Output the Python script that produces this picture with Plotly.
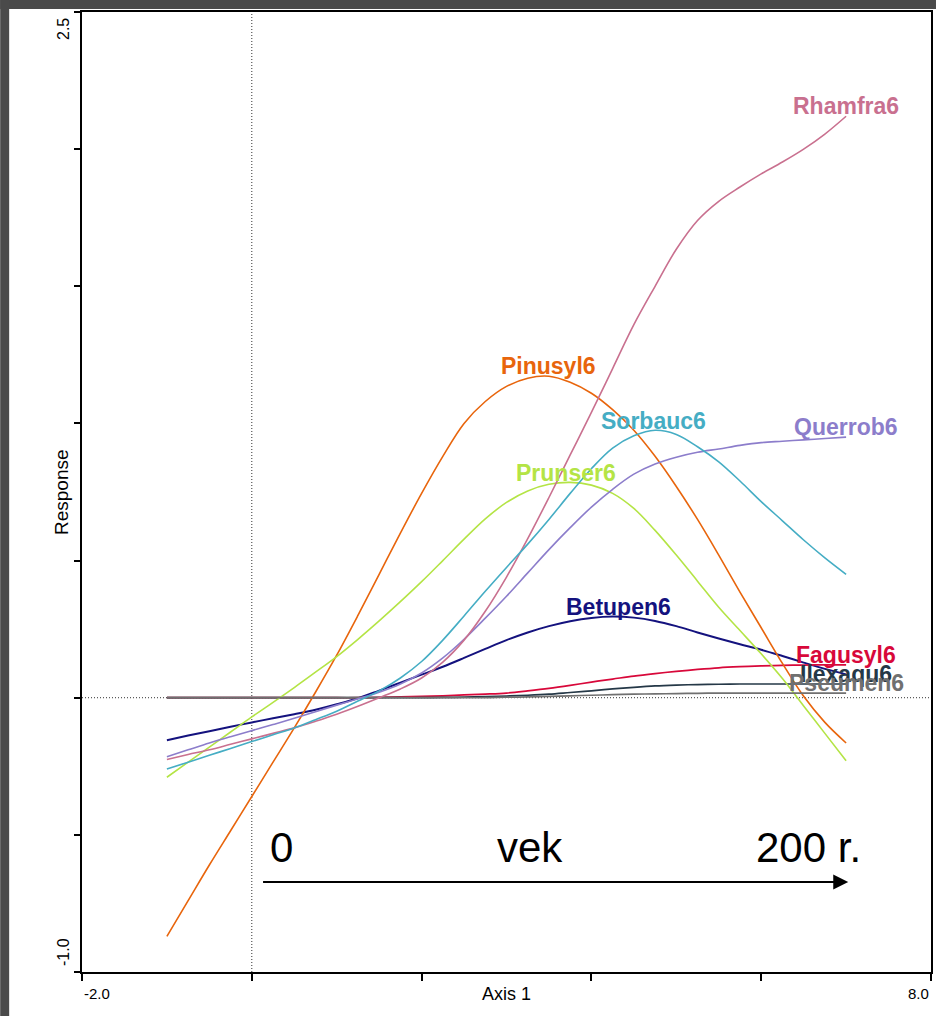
import numpy as np
import plotly.graph_objects as go

# Gradient position along Axis 1 (quarter steps from -1 to 7)
axis1 = [-1.0, -0.75, -0.5, -0.25, 0.0, 0.25, 0.5, 0.75, 1.0, 1.25, 1.5, 1.75,
         2.0, 2.25, 2.5, 2.75, 3.0, 3.25, 3.5, 3.75, 4.0, 4.25, 4.5, 4.75,
         5.0, 5.25, 5.5, 5.75, 6.0, 6.25, 6.5, 6.75, 7.0]

# Fitted species response curves
betupen6 = [-0.155, -0.138, -0.122, -0.106, -0.09, -0.075, -0.06, -0.044, -0.024, -0.002, 0.026, 0.055,
            0.084, 0.113, 0.145, 0.178, 0.21, 0.238, 0.261, 0.279, 0.291, 0.296, 0.292, 0.28,
            0.261, 0.238, 0.216, 0.195, 0.175, 0.152, 0.128, 0.105, 0.085]
fagusyl6 = [0.0, 0.0, 0.0, 0.0, 0.0, 0.0, 0.0, 0.0, 0.0, 0.0, 0.001, 0.003,
            0.005, 0.007, 0.01, 0.013, 0.017, 0.025, 0.034, 0.045, 0.057, 0.068, 0.079, 0.088,
            0.096, 0.103, 0.109, 0.113, 0.116, 0.118, 0.119, 0.12, 0.12]
ilexaqu6 = [0.0, 0.0, 0.0, 0.0, 0.0, 0.0, 0.0, 0.0, 0.0, 0.0, 0.0, 0.0,
            0.0, 0.001, 0.002, 0.004, 0.006, 0.009, 0.013, 0.019, 0.025, 0.032, 0.038, 0.043,
            0.046, 0.048, 0.049, 0.05, 0.05, 0.05, 0.05, 0.05, 0.05]
pinusyl6 = [-0.87, -0.74, -0.61, -0.485, -0.36, -0.235, -0.11, 0.02, 0.155, 0.3, 0.45, 0.6,
            0.745, 0.88, 1.0, 1.08, 1.135, 1.165, 1.172, 1.15, 1.11, 1.05, 0.975, 0.88,
            0.77, 0.65, 0.52, 0.385, 0.255, 0.125, 0.005, -0.09, -0.165]
prunser6 = [-0.29, -0.235, -0.18, -0.125, -0.07, -0.017, 0.037, 0.093, 0.15, 0.213, 0.28, 0.35,
            0.423, 0.5, 0.578, 0.652, 0.712, 0.754, 0.778, 0.785, 0.775, 0.745, 0.69, 0.61,
            0.52, 0.425, 0.33, 0.245, 0.16, 0.07, -0.03, -0.13, -0.23]
pseumen6 = [0.0, 0.0, 0.0, 0.0, 0.0, 0.0, 0.0, 0.0, 0.0, 0.0, 0.0, 0.0,
            0.0, 0.0, 0.0, 0.0, 0.002, 0.003, 0.005, 0.007, 0.009, 0.011, 0.013, 0.014,
            0.015, 0.016, 0.017, 0.017, 0.017, 0.017, 0.017, 0.017, 0.017]
querrob6 = [-0.215, -0.19, -0.165, -0.142, -0.12, -0.098, -0.075, -0.051, -0.027, -0.004, 0.02, 0.05,
            0.09, 0.145, 0.213, 0.29, 0.37, 0.455, 0.54, 0.62, 0.695, 0.76, 0.815, 0.852,
            0.877, 0.895, 0.907, 0.92, 0.93, 0.935, 0.94, 0.945, 0.95]
rhamfra6 = [-0.225, -0.207, -0.19, -0.17, -0.15, -0.13, -0.11, -0.086, -0.06, -0.031, 0.0, 0.032,
            0.072, 0.13, 0.21, 0.315, 0.44, 0.58, 0.73, 0.885, 1.04, 1.2, 1.36, 1.5,
            1.635, 1.74, 1.81, 1.862, 1.91, 1.953, 2.0, 2.055, 2.12]
sorbauc6 = [-0.26, -0.235, -0.21, -0.185, -0.16, -0.135, -0.11, -0.08, -0.049, -0.012, 0.025, 0.072,
            0.132, 0.21, 0.298, 0.388, 0.475, 0.56, 0.65, 0.745, 0.835, 0.91, 0.955, 0.975,
            0.96, 0.915, 0.86, 0.79, 0.715, 0.645, 0.575, 0.51, 0.45]

species = ["Betupen6", "Fagusyl6", "Ilexaqu6", "Pinusyl6", "Prunser6",
           "Pseumen6", "Querrob6", "Rhamfra6", "Sorbauc6"]
responses = [betupen6, fagusyl6, ilexaqu6, pinusyl6, prunser6,
             pseumen6, querrob6, rhamfra6, sorbauc6]
colors = ["#14127E", "#D8083A", "#253847", "#E8650C", "#B4E445",
          "#707070", "#8C7DCB", "#C9708F", "#45ADC4"]
widths = [2.0, 1.7, 1.7, 1.6, 1.6, 1.7, 1.6, 1.6, 1.6]
# where along Axis 1 each species name is written
label_at = [4.32, 7.0, 7.0, 3.5, 3.7, 7.0, 7.0, 7.0, 4.73]

# Axis settings
x_range = [-2.0, 8.0]
y_range = [-1.0, 2.5]
x_ticks = [-2, 0, 2, 4, 6, 8]
y_ticks = [-1.0, -0.5, 0.0, 0.5, 1.0, 1.5, 2.0, 2.5]

# Age annotation along the gradient
age_text = ["0", "vek", "200 r."]
age_x = [0.35, 3.28, 6.555]
age_y = -0.545
arrow_from, arrow_to, arrow_y = 0.115, 7.025, -0.672

FONT = "Liberation Sans, Arial, sans-serif"
W, H = 938, 1016
ML, MR, MT, MB = 82, 5, 12, 44

fig = go.Figure()
for name, ys, col, lw in zip(species, responses, colors, widths):
    fig.add_trace(go.Scatter(
        x=axis1, y=ys, mode="lines", name=name,
        line=dict(color=col, width=lw, shape="spline", smoothing=1.0),
        hoverinfo="x+y+name", showlegend=False,
    ))

annotations = []
# Species names near each curve's optimum (or end)
for name, ys, col, lx in zip(species, responses, colors, label_at):
    ly = float(np.interp(lx, axis1, ys))
    annotations.append(dict(
        x=lx, y=ly, xref="x", yref="y", text=f"<b>{name}</b>",
        showarrow=False, xanchor="center", yanchor="middle", yshift=10,
        font=dict(family=FONT, size=23, color=col),
    ))

# Sparse tick labels at the axis ends
annotations += [
    dict(x=x_range[0], y=0, xref="x", yref="paper", text="-2.0", showarrow=False,
         xanchor="left", yanchor="middle", yshift=-21,
         font=dict(family=FONT, size=15, color="black")),
    dict(x=x_range[1], y=0, xref="x", yref="paper", text="8.0", showarrow=False,
         xanchor="right", yanchor="middle", yshift=-21,
         font=dict(family=FONT, size=15, color="black")),
    dict(x=0, y=y_range[1], xref="paper", yref="y", text="2.5", showarrow=False,
         textangle=-90, xanchor="center", yanchor="middle", xshift=-19, yshift=-17,
         font=dict(family=FONT, size=16, color="black")),
    dict(x=0, y=y_range[0], xref="paper", yref="y", text="-1.0", showarrow=False,
         textangle=-90, xanchor="center", yanchor="middle", xshift=-19, yshift=20,
         font=dict(family=FONT, size=16, color="black")),
    dict(x=0.5, y=0, xref="paper", yref="paper", text="Axis 1", showarrow=False,
         xanchor="center", yanchor="middle", yshift=-22,
         font=dict(family=FONT, size=18, color="black")),
    dict(x=0, y=0.5, xref="paper", yref="paper", text="Response", showarrow=False,
         textangle=-90, xanchor="center", yanchor="middle", xshift=-21,
         font=dict(family=FONT, size=19, color="black")),
]

# Age labels and arrow
for t, ax_ in zip(age_text, age_x):
    annotations.append(dict(
        x=ax_, y=age_y, xref="x", yref="y", text=t, showarrow=False,
        xanchor="center", yanchor="middle",
        font=dict(family=FONT, size=42, color="black"),
    ))
annotations.append(dict(
    x=arrow_to, y=arrow_y, ax=arrow_from, ay=arrow_y,
    xref="x", yref="y", axref="x", ayref="y", text="",
    showarrow=True, arrowhead=2, arrowsize=1.5, arrowwidth=2, arrowcolor="black",
))

def px_to_paper_x(px):
    return (px - ML) / (W - ML - MR)

def px_to_paper_y(py):
    return (H - MB - py) / (H - MT - MB)

shapes = [
    # dark frame strips along the top and left edge
    dict(type="rect", xref="paper", yref="paper", layer="above",
         x0=px_to_paper_x(0), x1=px_to_paper_x(W), y0=px_to_paper_y(9), y1=px_to_paper_y(0),
         fillcolor="#4A4A4A", line=dict(width=0)),
    dict(type="rect", xref="paper", yref="paper", layer="above",
         x0=px_to_paper_x(0), x1=px_to_paper_x(9), y0=px_to_paper_y(H), y1=px_to_paper_y(0),
         fillcolor="#4A4A4A", line=dict(width=0)),
    # dotted reference lines through the origin
    dict(type="line", xref="x", yref="y", layer="below",
         x0=0, x1=0, y0=y_range[0], y1=y_range[1],
         line=dict(color="#333333", width=1, dash="1px,2px")),
    dict(type="line", xref="x", yref="y", layer="below",
         x0=x_range[0], x1=x_range[1], y0=0, y1=0,
         line=dict(color="#333333", width=1, dash="1px,2px")),
]

axis_common = dict(showgrid=False, zeroline=False, showticklabels=False,
                   tickcolor="black", tickwidth=1.5)

fig.update_layout(
    width=W, height=H,
    margin=dict(l=ML, r=MR, t=MT, b=MB, pad=0),
    paper_bgcolor="white", plot_bgcolor="white",
    font=dict(family=FONT, color="black"),
    xaxis=dict(range=x_range, tickvals=x_ticks, ticks="outside", ticklen=7,
               showline=True, linecolor="black", linewidth=1.5, mirror=True,
               **axis_common),
    yaxis=dict(range=y_range, tickvals=y_ticks, ticks="outside", ticklen=6,
               showline=True, linecolor="black", linewidth=1.5, mirror=True,
               **axis_common),
    xaxis2=dict(range=x_range, tickvals=x_ticks, ticks="inside", ticklen=3,
                overlaying="x", anchor="y", side="bottom", showline=False,
                **axis_common),
    yaxis2=dict(range=y_range, tickvals=y_ticks, ticks="inside", ticklen=3,
                overlaying="y", anchor="x", side="left", showline=False,
                **axis_common),
    annotations=annotations,
    shapes=shapes,
    hovermode="closest",
)

fig.write_html("out.html")
